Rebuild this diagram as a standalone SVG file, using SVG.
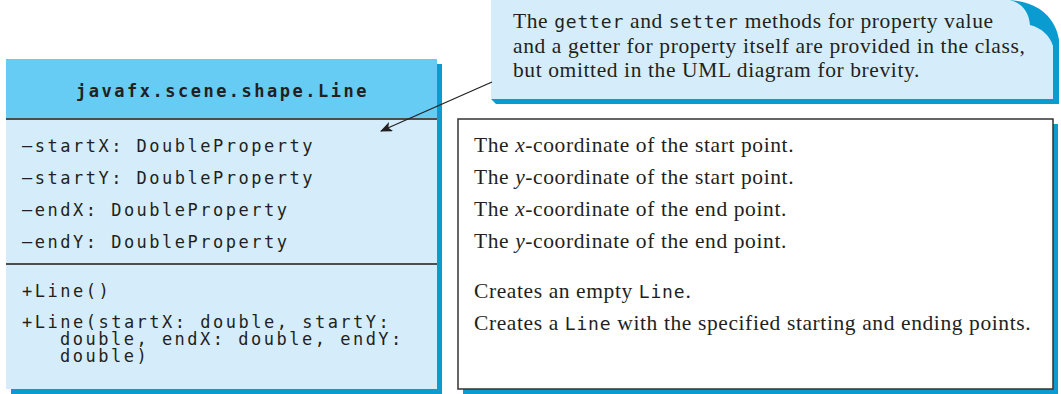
<svg xmlns="http://www.w3.org/2000/svg" width="1061" height="394" viewBox="0 0 1061 394">
<defs>
<style>
.mono{font-family:"DejaVu Sans Mono","Liberation Mono",monospace;font-size:17px;letter-spacing:2.5px;fill:#231f20}
.hdr{font-family:"DejaVu Sans Mono","Liberation Mono",monospace;font-size:17px;letter-spacing:2.5px;font-weight:bold;fill:#231f20}
.serif{font-family:"Liberation Serif","Times New Roman",serif;font-size:21.5px;letter-spacing:0.6px;fill:#231f20}
.im{font-family:"DejaVu Sans Mono","Liberation Mono",monospace;font-size:18px;letter-spacing:0.8px}
.shadow{fill:#0a9bd0}
.div{stroke:#4d4d4f;stroke-width:2}
</style>
<marker id="arr" viewBox="0 0 12 10" refX="11" refY="5" markerWidth="12" markerHeight="10" markerUnits="userSpaceOnUse" orient="auto">
<path d="M0,0 L12,5 L0,10 L3,5 Z" fill="#231f20"/>
</marker>
</defs>

<g id="callout">
<path class="shadow" d="M1005,0 C1035,0 1055,15 1059,40 L1059,104 L496,104 L491,99 L491,0 Z"/>
<path d="M491,0 H1010 C1022,3 1029,12 1030,25 C1042,28 1050,36 1053,46 V99 H491 Z" fill="#d5edfa"/>
<text class="serif" x="513" y="28">The <tspan class="im">getter</tspan> and <tspan class="im">setter</tspan> methods for property value</text>
<text class="serif" x="513" y="52.5">and a getter for property itself are provided in the class,</text>
<text class="serif" x="513" y="77">but omitted in the UML diagram for brevity.</text>
</g>

<g id="class-line">
<rect class="shadow" x="11" y="64" width="431" height="330"/>
<rect x="6" y="59" width="431" height="60" fill="#66ccf3"/>
<rect x="6" y="119" width="431" height="270" fill="#d5edfa"/>
<line class="div" x1="6" y1="119" x2="437" y2="119"/>
<line class="div" x1="6" y1="264" x2="437" y2="264"/>
<text class="hdr" x="222.5" y="97" text-anchor="middle">javafx.scene.shape.Line</text>
<text class="mono" x="22" y="152">–startX: DoubleProperty</text>
<text class="mono" x="22" y="184">–startY: DoubleProperty</text>
<text class="mono" x="22" y="216">–endX: DoubleProperty</text>
<text class="mono" x="22" y="248">–endY: DoubleProperty</text>
<text class="mono" x="22" y="297">+Line()</text>
<text class="mono" x="22" y="328">+Line(startX: double, startY:</text>
<text class="mono" x="60" y="345">double, endX: double, endY:</text>
<text class="mono" x="60" y="362">double)</text>
</g>

<g id="descriptions">
<rect class="shadow" x="463" y="124" width="595" height="270"/>
<rect x="458" y="119" width="595" height="270" fill="#ffffff" stroke="#333333" stroke-width="1.5"/>
<text class="serif" x="474" y="152">The <tspan font-style="italic">x</tspan>-coordinate of the start point.</text>
<text class="serif" x="474" y="184">The <tspan font-style="italic">y</tspan>-coordinate of the start point.</text>
<text class="serif" x="474" y="216">The <tspan font-style="italic">x</tspan>-coordinate of the end point.</text>
<text class="serif" x="474" y="248">The <tspan font-style="italic">y</tspan>-coordinate of the end point.</text>
<text class="serif" x="474" y="298">Creates an empty <tspan class="im">Line</tspan>.</text>
<text class="serif" x="474" y="330">Creates a <tspan class="im">Line</tspan> with the specified starting and ending points.</text>
</g>

<g id="connectors">
<line x1="492" y1="82" x2="381" y2="131" stroke="#231f20" stroke-width="1.2" marker-end="url(#arr)"/>
</g>
</svg>
